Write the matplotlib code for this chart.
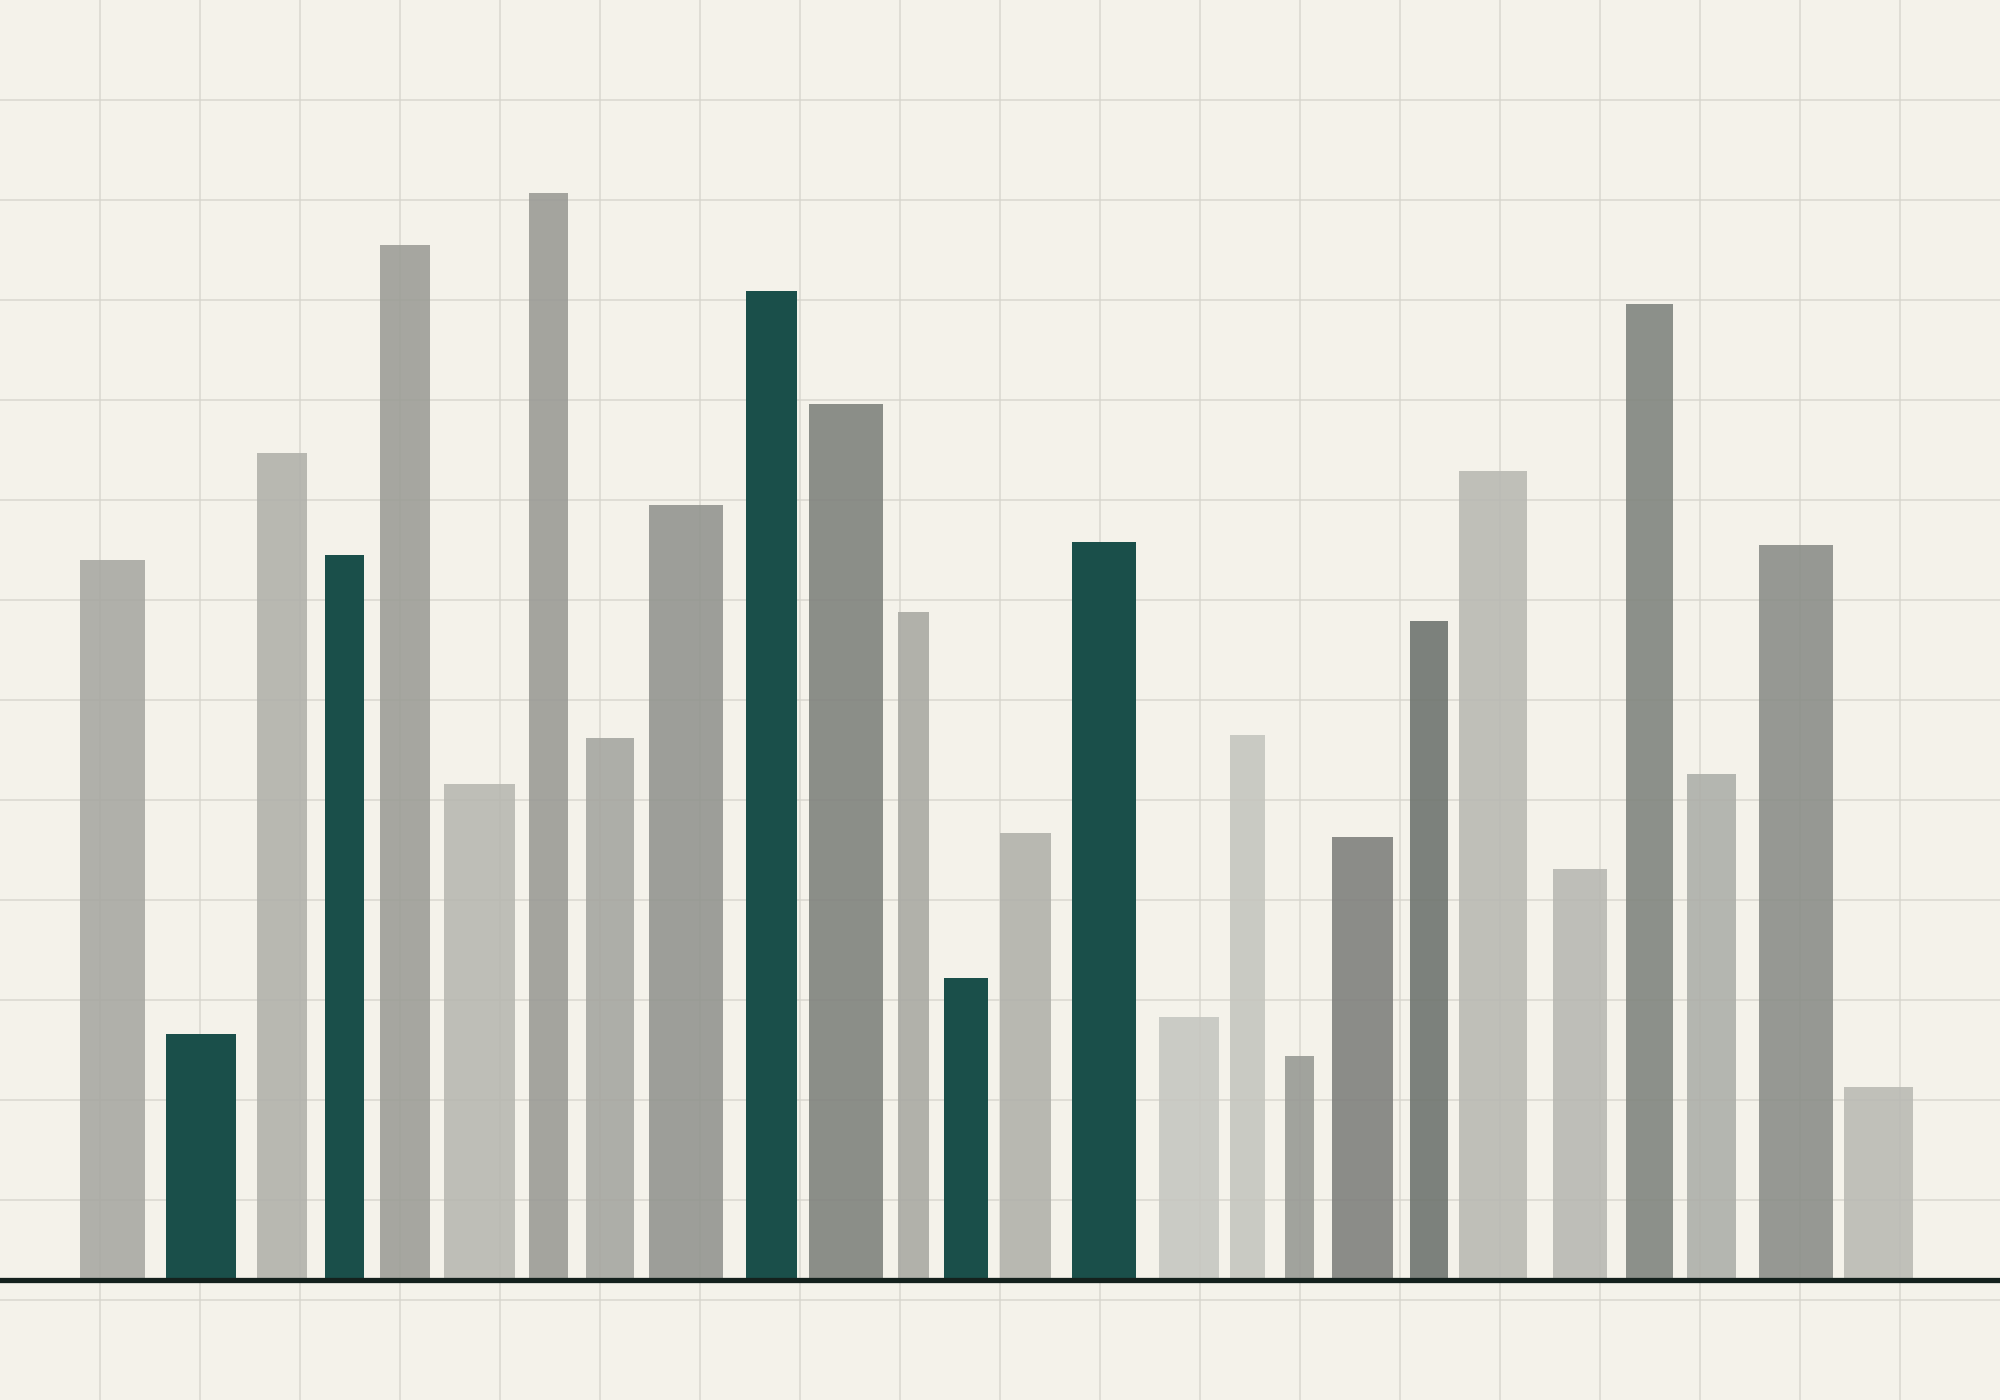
import numpy as np
import matplotlib
matplotlib.use("Agg")
import matplotlib.pyplot as plt
from matplotlib.colors import to_rgb

# bar centres / widths (x units), heights (y units)
centers = [1.125, 2.01, 2.82, 3.445, 4.05, 4.795, 5.485, 6.10, 6.86, 7.715,
           8.46, 9.135, 9.66, 10.255, 11.04, 11.89, 12.475, 12.995, 13.625, 14.29,
           14.93, 15.80, 16.495, 17.115, 17.96, 18.785]
widths = [0.65, 0.70, 0.50, 0.39, 0.50, 0.71, 0.39, 0.48, 0.74, 0.51,
          0.74, 0.31, 0.44, 0.51, 0.64, 0.60, 0.35, 0.29, 0.61, 0.38,
          0.68, 0.54, 0.47, 0.49, 0.74, 0.69]
values = [7.20, 2.46, 8.27, 7.25, 10.35, 4.96, 10.87, 5.42, 7.75, 9.89,
          8.76, 6.68, 3.02, 4.47, 7.38, 2.63, 5.45, 2.24, 4.43, 6.59,
          8.09, 4.11, 9.76, 5.06, 7.35, 1.93]
highlight = [False, True, False, True, False, False, False, False, False, True,
             False, False, True, False, True, False, False, False, False, False,
             False, False, False, False, False, False]
grays = ["#b0b0aa", None, "#b8b8b2", None, "#a6a6a0", "#bebeb7", "#a4a49e", "#aeaea8",
         "#9d9e99", None, "#8b8e88", "#b1b1ab", None, "#b8b8b2", None, "#cbcbc5",
         "#cacac3", "#a1a39d", "#8b8c88", "#7c817c", "#bfbfb9", "#bebeb8", "#8c908a",
         "#b5b6b0", "#969893", "#c0c0ba"]

bg = "#f4f2ea"
green = "#1a4f4a"
alpha = 0.88


def base_for(seen):
    # colour that gives `seen` when drawn at `alpha` over the background
    s, b = np.array(to_rgb(seen)), np.array(to_rgb(bg))
    return tuple(np.clip((s - (1 - alpha) * b) / alpha, 0, 1))


fig = plt.figure(figsize=(20, 14), dpi=100, facecolor=bg)
ax = fig.add_axes([0, 0, 1, 1])
ax.set_facecolor(bg)

for c, w, v, h, g in zip(centers, widths, values, highlight, grays):
    if h:
        ax.bar(c, v, width=w, color=green, zorder=3, linewidth=0)
    else:
        ax.bar(c, v, width=w, color=base_for(g), alpha=alpha, zorder=2, linewidth=0)

ax.set_xlim(0, 20)
ax.set_ylim(-1.2, 12.8)
ax.set_xticks(np.arange(1, 20))
ax.set_yticks(np.arange(-0.2, 12.8, 1.0))
ax.grid(True, color="#d6d3cb", linewidth=1.3, alpha=0.75)
ax.set_axisbelow(True)
ax.tick_params(length=0, labelbottom=False, labelleft=False)
for s in ax.spines.values():
    s.set_visible(False)

ax.axhline(0, color="#14211d", linewidth=3.8, zorder=4)

fig.savefig("out.png", dpi=100, facecolor=bg)
